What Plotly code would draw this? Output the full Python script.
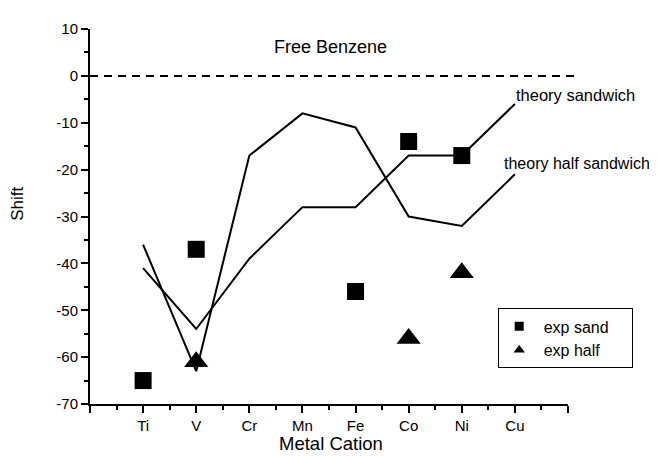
import plotly.graph_objects as go

# ---- data ----
metals = ["Ti", "V", "Cr", "Mn", "Fe", "Co", "Ni", "Cu"]
metal_pos = [1, 2, 3, 4, 5, 6, 7, 8]

# theory curves (last point = leader line toward the label)
theory_sandwich = [-41, -54, -39, -28, -28, -17, -17, -6]
theory_half = [-36, -63, -17, -8, -11, -30, -32, -21]

exp_sand_metals = ["Ti", "V", "Fe", "Co", "Ni"]
exp_sand = [-65, -37, -46, -14, -17]

exp_half_metals = ["V", "Co", "Ni"]
exp_half = [-61, -56, -42]

y_ticks = [-70, -60, -50, -40, -30, -20, -10, 0, 10]
y_ticktext = ["-70", "-60", "-50", "-40", "-30", "-20", "-10", "0", "10"]
x_tickvals = [0, 1, 2, 3, 4, 5, 6, 7, 8, 9]
x_ticktext = [""] + metals + [""]

pos = dict(zip(metals, metal_pos))
FONT = "Liberation Sans, Arial, sans-serif"
NB = "\u00a0"

fig = go.Figure()
fig.add_trace(go.Scatter(x=metal_pos, y=theory_sandwich, mode="lines",
                         line=dict(color="black", width=2), showlegend=False))
fig.add_trace(go.Scatter(x=metal_pos, y=theory_half, mode="lines",
                         line=dict(color="black", width=2), showlegend=False))
fig.add_trace(go.Scatter(x=[pos[m] for m in exp_sand_metals], y=exp_sand, mode="markers",
                         marker=dict(symbol="square", size=17, color="black"),
                         showlegend=False))
fig.add_trace(go.Scatter(x=[pos[m] for m in exp_half_metals], y=exp_half, mode="markers",
                         marker=dict(symbol="triangle-up", size=21, color="black"),
                         showlegend=False))
# legend-only entries with small symbols
fig.add_trace(go.Scatter(x=[None], y=[None], mode="markers", name=NB + "exp sand" + NB * 4,
                         marker=dict(symbol="square", size=9, color="black")))
fig.add_trace(go.Scatter(x=[None], y=[None], mode="markers", name=NB + "exp half" + NB * 4,
                         marker=dict(symbol="triangle-up", size=10, color="black")))

# free benzene reference line
fig.add_shape(type="line", xref="paper", yref="y", x0=0, x1=1.015, y0=0, y1=0,
              line=dict(color="black", width=2, dash="8px,6px"))

def f(size):
    return dict(family=FONT, size=size, color="black")

fig.add_annotation(text="Free Benzene", xref="paper", yref="paper", x=0.504, y=0.953,
                   xanchor="center", yanchor="middle", showarrow=False, font=f(18))
fig.add_annotation(text="theory sandwich", xref="paper", yref="paper", x=0.886, y=0.823,
                   xanchor="left", yanchor="middle", showarrow=False, font=f(16.5))
fig.add_annotation(text="theory half sandwich", xref="paper", yref="paper", x=0.862, y=0.641,
                   xanchor="left", yanchor="middle", showarrow=False, font=f(16))
fig.add_annotation(text="Metal Cation", xref="paper", yref="paper", x=0.504, y=-0.104,
                   xanchor="center", yanchor="middle", showarrow=False, font=f(18.5))
fig.add_annotation(text="Shift", xref="paper", yref="paper", x=-0.1506, y=0.534, textangle=-90,
                   xanchor="center", yanchor="middle", showarrow=False, font=f(17))

fig.update_layout(
    width=641, height=448,
    margin=dict(l=82, r=81, t=12, b=52),
    paper_bgcolor="white", plot_bgcolor="white",
    font=dict(family=FONT, size=15, color="black"),
    xaxis=dict(range=[0, 9], tickmode="array", tickvals=x_tickvals, ticktext=x_ticktext,
               showgrid=False, zeroline=False, showline=True, linecolor="black", linewidth=2,
               ticks="outside", ticklen=7, tickwidth=2, tickcolor="black",
               tickfont=dict(family=FONT, size=15),
               minor=dict(tickmode="linear", tick0=0, dtick=0.5, ticks="outside", ticklen=4,
                          tickwidth=2, tickcolor="black")),
    yaxis=dict(range=[-70, 10], tickmode="array", tickvals=y_ticks, ticktext=y_ticktext,
               showgrid=False, zeroline=False, showline=True, linecolor="black", linewidth=2,
               ticks="outside", ticklen=7, tickwidth=2, tickcolor="black",
               tickfont=dict(family=FONT, size=15),
               minor=dict(tickmode="linear", tick0=0, dtick=5, ticks="outside", ticklen=4,
                          tickwidth=2, tickcolor="black")),
    legend=dict(x=0.854, y=0.255, xanchor="left", yanchor="top",
                bordercolor="black", borderwidth=1, bgcolor="white",
                font=dict(family=FONT, size=16)),
)

fig.write_html("out.html")
